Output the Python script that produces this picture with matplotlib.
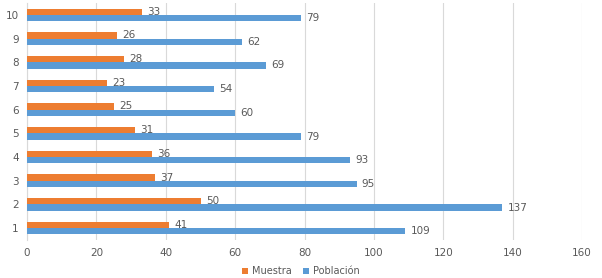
import matplotlib.pyplot as plt
import numpy as np

categories = ["1", "2", "3", "4", "5", "6", "7", "8", "9", "10"]
muestra = [41, 50, 37, 36, 31, 25, 23, 28, 26, 33]
poblacion = [109, 137, 95, 93, 79, 60, 54, 69, 62, 79]

orange = "#ED7D31"
blue = "#5B9BD5"
txt = "#595959"

fig = plt.figure(figsize=(6.02, 2.78), dpi=100)
ax = fig.add_axes([0.045, 0.137, 0.922, 0.852])

y = np.arange(len(categories))
h = 0.27
b1 = ax.barh(y + h / 2, muestra, height=h, color=orange, label="Muestra", zorder=3)
b2 = ax.barh(y - h / 2, poblacion, height=h, color=blue, label="Población", zorder=3)

for bars, vals in ((b1, muestra), (b2, poblacion)):
    for bar, v in zip(bars, vals):
        ax.text(bar.get_width() + 1.5, bar.get_y() + bar.get_height() / 2, str(v),
                va="center", ha="left", fontsize=7.5, color=txt)

ax.set_xlim(0, 160)
ax.set_ylim(-0.5, len(categories) - 0.5)
ax.set_xticks(np.arange(0, 161, 20))
ax.set_yticks(y)
ax.set_yticklabels(categories)
ax.tick_params(axis="both", length=0, labelsize=7.5, labelcolor=txt)
ax.tick_params(axis="x", pad=6)
ax.tick_params(axis="y", pad=6)
ax.grid(axis="x", color="#D9D9D9", linewidth=0.8, zorder=0)
for s in ("top", "right", "bottom"):
    ax.spines[s].set_visible(False)
ax.spines["left"].set_color("#D9D9D9")

fig.legend(handles=[b1, b2], loc="center", bbox_to_anchor=(0.5, 0.025), ncol=2,
           frameon=False, fontsize=7, labelcolor=txt, handlelength=0.6, handleheight=0.6,
           columnspacing=1.2, handletextpad=0.4)

fig.savefig("out.png", dpi=100)
